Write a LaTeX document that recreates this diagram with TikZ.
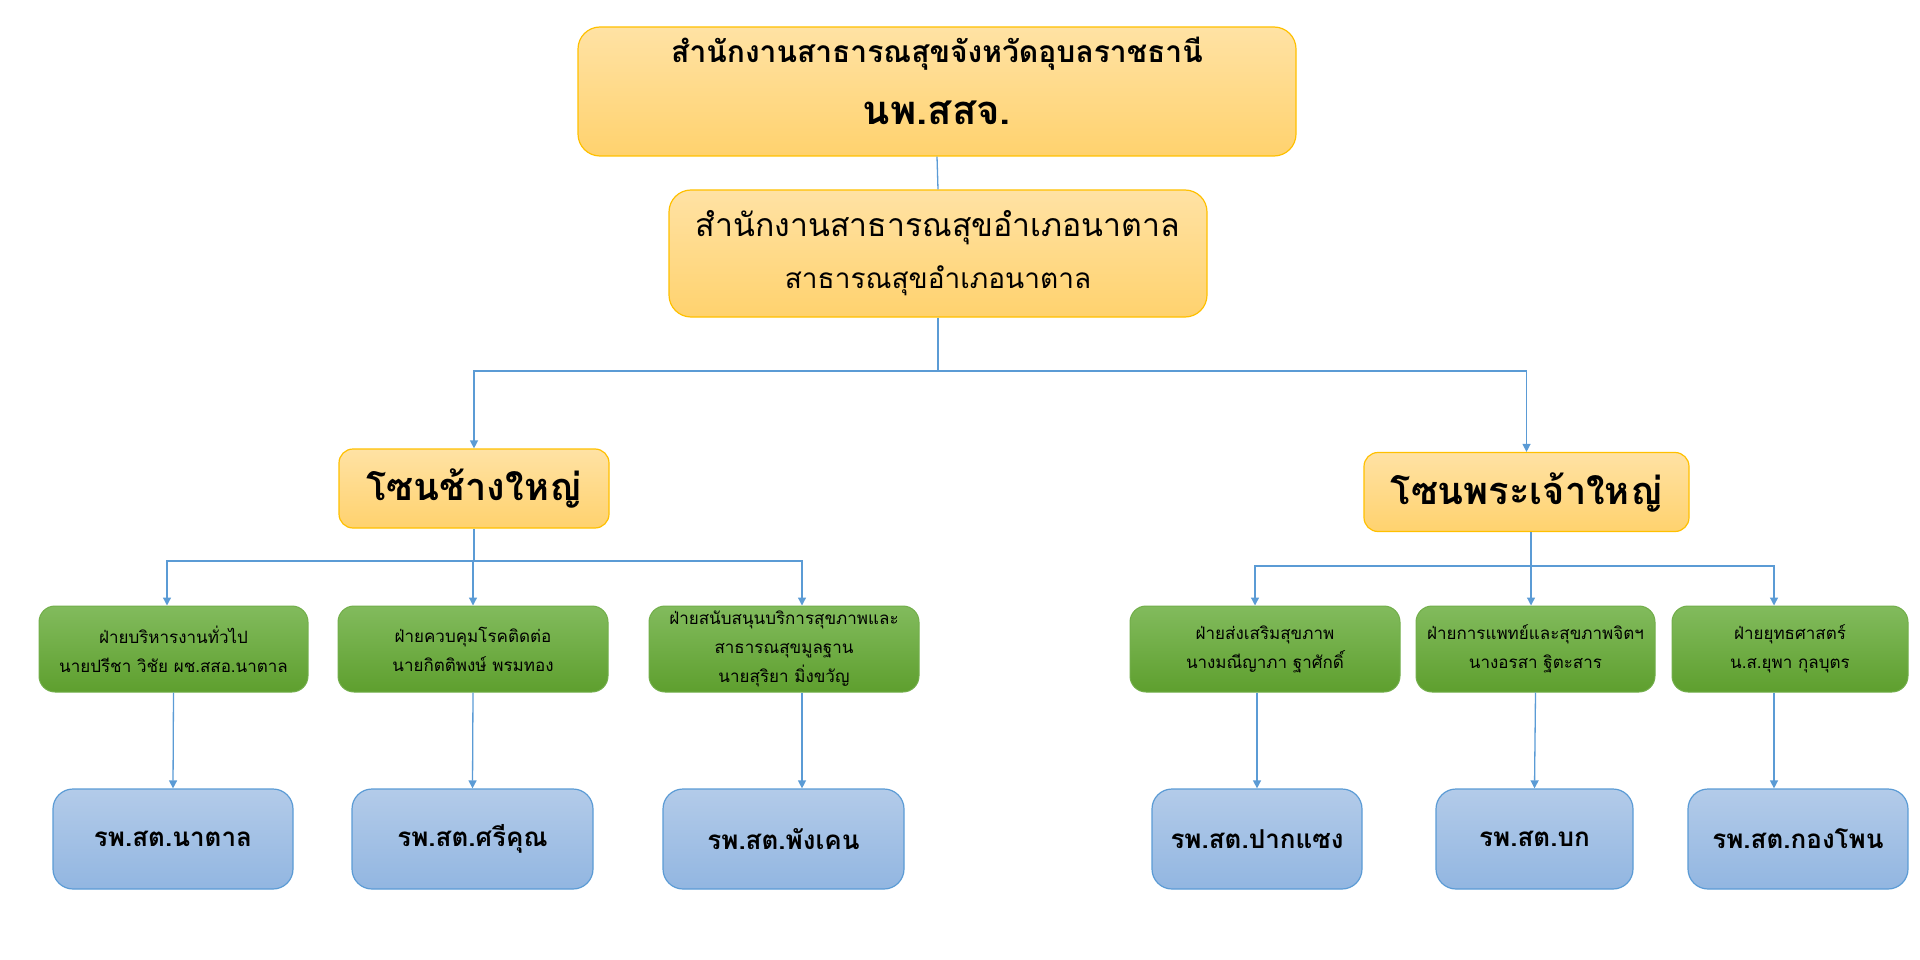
\documentclass[tikz,border=0pt]{standalone}
\usepackage{fontspec}
\newfontfamily\thaifont[Script=Thai]{Loma}
\usetikzlibrary{arrows.meta}
\definecolor{linkblue}{HTML}{5B9BD5}
\definecolor{orgline}{HTML}{FFC000}
\definecolor{orgtop}{HTML}{FFE2A4}
\definecolor{orgbot}{HTML}{FFD26E}
\definecolor{grnline}{HTML}{72AE4A}
\definecolor{grntop}{HTML}{82BB5D}
\definecolor{grnbot}{HTML}{5E9F2E}
\definecolor{bluline}{HTML}{5B9BD5}
\definecolor{blutop}{HTML}{B3CBE9}
\definecolor{blubot}{HTML}{92B6E1}
\begin{document}
\begin{tikzpicture}[x=1pt, y=-1pt, >={Triangle[length=8pt,width=8pt]},
    orgbox/.style={draw=orgline, line width=1.2pt, rounded corners=22pt, top color=orgtop, bottom color=orgbot, align=center, inner sep=0pt},
    zonebox/.style={orgbox, rounded corners=14pt, minimum height=79pt, font=\thaifont\bfseries\fontsize{38}{44}\selectfont},
    deptbox/.style={draw=grnline, line width=1pt, rounded corners=16pt, top color=grntop, bottom color=grnbot, align=center, inner sep=0pt, minimum height=86pt, font=\thaifont\fontsize{17}{29}\selectfont},
    unitbox/.style={draw=bluline, line width=1.2pt, rounded corners=20pt, top color=blutop, bottom color=blubot, inner sep=0pt, minimum height=100pt, font=\thaifont\bfseries\fontsize{26}{30}\selectfont},
    link/.style={draw=linkblue, line width=1.3pt}]
\useasboundingbox (0,0) rectangle (1920,960);

\node[orgbox, minimum width=718pt, minimum height=129pt, font=\thaifont\bfseries\fontsize{30}{62}\selectfont] (top) at (937,91.5)
    {สำนักงานสาธารณสุขจังหวัดอุบลราชธานี\\{\fontsize{40}{62}\selectfont นพ.สสจ.}\rule[-22pt]{0pt}{22pt}};
\node[orgbox, minimum width=538pt, minimum height=127pt, font=\thaifont\fontsize{32}{52}\selectfont] (mid) at (938,253.5)
    {สำนักงานสาธารณสุขอำเภอนาตาล\\{\fontsize{28}{52}\selectfont สาธารณสุขอำเภอนาตาล}};

\node[zonebox, minimum width=270pt] (zl) at (474,488.5) {โซนช้างใหญ่};
\node[zonebox, minimum width=325pt] (zr) at (1526.5,492) {โซนพระเจ้าใหญ่};

\node[deptbox, minimum width=269pt] (g1) at (173.5,649) {ฝ่ายบริหารงานทั่วไป\\นายปรีชา วิชัย ผช.สสอ.นาตาล};
\node[deptbox, minimum width=270pt] (g2) at (473,649) {ฝ่ายควบคุมโรคติดต่อ\\นายกิตติพงษ์ พรมทอง};
\node[deptbox, minimum width=270pt] (g3) at (784,649) {ฝ่ายสนับสนุนบริการสุขภาพและ\\สาธารณสุขมูลฐาน\\นายสุริยา มิ่งขวัญ};
\node[deptbox, minimum width=270pt] (g4) at (1265,649) {ฝ่ายส่งเสริมสุขภาพ\\นางมณีญาภา ฐาศักดิ์};
\node[deptbox, minimum width=239pt] (g5) at (1535.5,649) {ฝ่ายการแพทย์และสุขภาพจิตฯ\\นางอรสา ฐิตะสาร};
\node[deptbox, minimum width=236pt] (g6) at (1790,649) {ฝ่ายยุทธศาสตร์\\น.ส.ยุพา กุลบุตร};

\node[unitbox, minimum width=240pt] (h1) at (173,839) {รพ.สต.นาตาล};
\node[unitbox, minimum width=241pt] (h2) at (472.5,839) {รพ.สต.ศรีคุณ};
\node[unitbox, minimum width=241pt] (h3) at (783.5,839) {รพ.สต.พังเคน};
\node[unitbox, minimum width=210pt] (h4) at (1257,839) {รพ.สต.ปากแซง};
\node[unitbox, minimum width=197pt] (h5) at (1534.5,839) {รพ.สต.บก};
\node[unitbox, minimum width=220pt] (h6) at (1798,839) {รพ.สต.กองโพน};

\draw[link] (top.south) -- (mid.north);
\coordinate (hub) at (938,371);
\draw[link] (mid.south) -- (hub);
\draw[link,->] (hub) -| (zl.north);
\draw[link,->] (hub) -| (zr.north);

\coordinate (busl) at (474,561);
\draw[link] (zl.south) -- (busl);
\draw[link,->] (busl) -| ([xshift=-6.5pt]g1.north);
\draw[link,->] (busl) -| (g2.north);
\draw[link,->] (busl) -| ([xshift=18pt]g3.north);

\coordinate (busr) at (1531,566);
\draw[link] (zr.south -| busr) -- (busr);
\draw[link,->] (busr) -| ([xshift=-10pt]g4.north);
\draw[link,->] (busr) -- (g5.north -| busr);
\draw[link,->] (busr) -| ([xshift=-16pt]g6.north);

\foreach \n in {1,2,5}
{
    \draw[link,->] (g\n.south) -- (h\n.north);
}
\draw[link,->] ([xshift=18pt]g3.south) -- ([xshift=18pt]g3.south |- h3.north);
\draw[link,->] (g4.south -| h4.north) -- (h4.north);
\draw[link,->] ([xshift=-16pt]g6.south) -- ([xshift=-16pt]g6.south |- h6.north);
\end{tikzpicture}
\end{document}
